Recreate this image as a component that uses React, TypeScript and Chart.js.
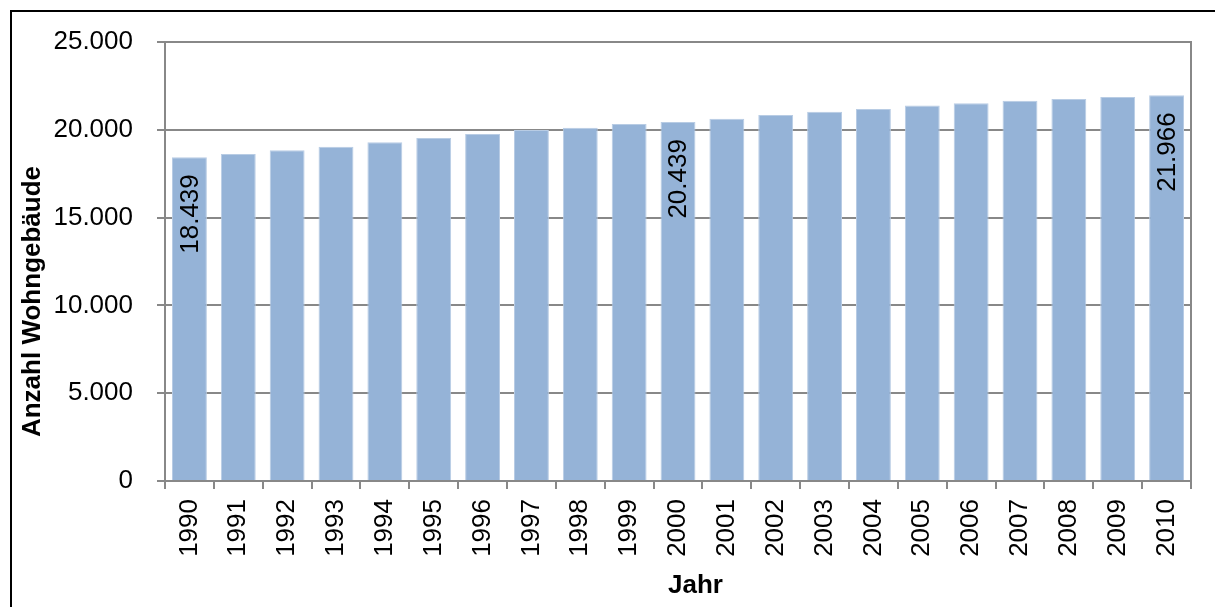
import React, { useEffect, useRef } from "react";
import { Chart, registerables } from "chart.js";

Chart.register(...registerables);

const years: string[] = [
  "1990", "1991", "1992", "1993", "1994", "1995", "1996", "1997", "1998", "1999",
  "2000", "2001", "2002", "2003", "2004", "2005", "2006", "2007", "2008", "2009", "2010",
];
const buildings: number[] = [
  18439, 18620, 18830, 19040, 19290, 19530, 19760, 19990, 20120, 20330,
  20439, 20630, 20840, 21030, 21180, 21390, 21510, 21660, 21750, 21870, 21966,
];
const labeledIndices: number[] = [0, 10, 20];
const yTitle = "Anzahl Wohngebäude";
const xTitle = "Jahr";
const yMax = 25000;
const yStep = 5000;

const FONT = "'Liberation Sans', Arial, sans-serif";
const GRAY = "#888888";
const BAR = "#95B3D7";

function fmt(v: number): string {
  return Math.round(v).toString().replace(/\B(?=(\d{3})+(?!\d))/g, ".");
}

const extrasPlugin = {
  id: "extras",
  afterDatasetsDraw(chart: any) {
    const { ctx, chartArea } = chart;
    const meta = chart.getDatasetMeta(0);
    ctx.save();
    // plot area right border
    ctx.strokeStyle = GRAY;
    ctx.lineWidth = 2;
    ctx.beginPath();
    ctx.moveTo(chartArea.right, chartArea.top - 1);
    ctx.lineTo(chartArea.right, chartArea.bottom);
    ctx.stroke();
    // data labels
    ctx.fillStyle = "#000";
    ctx.font = `26px ${FONT}`;
    ctx.textAlign = "right";
    ctx.textBaseline = "middle";
    labeledIndices.forEach((i) => {
      const el = meta.data[i];
      if (!el) return;
      ctx.save();
      ctx.translate(el.x, el.y + 17);
      ctx.rotate(-Math.PI / 2);
      ctx.fillText(fmt(buildings[i]), 0, 1);
      ctx.restore();
    });
    // axis titles
    ctx.font = `bold 26px ${FONT}`;
    ctx.textAlign = "center";
    ctx.textBaseline = "alphabetic";
    ctx.fillText(xTitle, 695.5, 593);
    ctx.save();
    ctx.translate(40, 301.5);
    ctx.rotate(-Math.PI / 2);
    ctx.fillText(yTitle, 0, 0);
    ctx.restore();
    ctx.restore();
  },
};

export default function App() {
  const ref = useRef<HTMLCanvasElement | null>(null);
  useEffect(() => {
    if (!ref.current) return;
    const chart = new Chart(ref.current, {
      type: "bar",
      data: {
        labels: years,
        datasets: [
          {
            label: yTitle,
            data: buildings,
            backgroundColor: BAR,
            borderColor: "#B8CCE4",
            borderWidth: 1,
            barPercentage: 0.714,
            categoryPercentage: 1,
          },
        ],
      },
      options: {
        responsive: false,
        animation: false,
        layout: { padding: { left: 0, right: 24, top: 42, bottom: 0 } },
        plugins: {
          legend: { display: false },
          tooltip: { enabled: false },
        },
        scales: {
          x: {
            grid: {
              display: true,
              drawOnChartArea: false,
              drawTicks: true,
              tickLength: 8,
              color: GRAY,
              lineWidth: 2,
              offset: true,
            },
            border: { display: true, color: GRAY, width: 2 },
            ticks: {
              autoSkip: false,
              minRotation: 90,
              maxRotation: 90,
              padding: 10,
              color: "#000",
              font: { family: FONT, size: 26 },
            },
            afterFit(scale: any) {
              scale.height = 126;
            },
          },
          y: {
            min: 0,
            max: yMax,
            ticks: {
              stepSize: yStep,
              padding: 24,
              color: "#000",
              font: { family: FONT, size: 26 },
              callback: (v: any) => fmt(Number(v)),
            },
            grid: {
              color: GRAY,
              lineWidth: 2,
              tickLength: 8,
              drawTicks: true,
            },
            border: { display: true, color: GRAY, width: 2 },
            afterFit(scale: any) {
              scale.width = 165;
            },
          },
        },
      },
      plugins: [extrasPlugin],
    });
    return () => chart.destroy();
  }, []);

  return (
    <div
      style={{
        position: "absolute",
        left: 0,
        top: 0,
        width: 1215,
        height: 607,
        overflow: "hidden",
        background: "#fff",
      }}
    >
      <canvas
        ref={ref}
        width={1215}
        height={607}
        style={{ position: "absolute", left: 0, top: 0, width: 1215, height: 607 }}
      />
      <div
        style={{
          position: "absolute",
          left: 10,
          top: 10,
          width: 1215,
          height: 607,
          borderLeft: "2px solid #000",
          borderTop: "2px solid #000",
          pointerEvents: "none",
        }}
      />
    </div>
  );
}
